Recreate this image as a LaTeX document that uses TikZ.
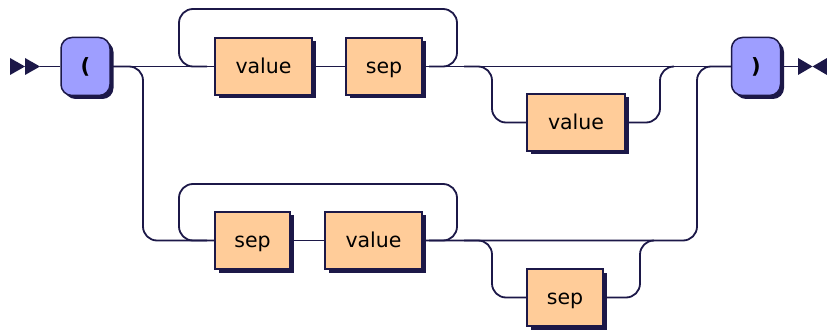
\documentclass[tikz,border=0pt]{standalone}
\usepackage{fontspec}
\setmainfont{DejaVu Sans}
\usetikzlibrary{shadows}
\definecolor{ink}{HTML}{1C1848}
\definecolor{peach}{HTML}{FFCC99}
\definecolor{lav}{HTML}{9E9EFF}
\begin{document}
\begin{tikzpicture}[x=1pt,y=-1pt,
  line/.style={draw=ink,line width=1.8pt,rounded corners=14pt},
  nt/.style={draw=ink,line width=1.5pt,fill=peach,minimum height=57pt,inner sep=0pt,
    font=\fontsize{20.5}{24}\selectfont,text=black,text height=16.5pt,text depth=3pt,
    drop shadow={shadow xshift=3.5pt,shadow yshift=-3.5pt,fill=ink,opacity=1}},
  term/.style={draw=ink,line width=1.5pt,fill=lav,rounded corners=11pt,minimum height=58pt,minimum width=49pt,inner sep=0pt,
    font=\fontsize{21}{24}\selectfont\bfseries,text=black,
    drop shadow={shadow xshift=3.5pt,shadow yshift=-3.5pt,fill=ink,opacity=1}},
  tip/.style={fill=ink,draw=none}]
\useasboundingbox (0,0) rectangle (827,331);
% start / end
\coordinate (start) at (40,66.5);
\coordinate (finish) at (798,66.5);
\fill[tip] (10,58) -- (25,66.5) -- (10,75) -- cycle;
\fill[tip] (25,58) -- (40,66.5) -- (25,75) -- cycle;
\fill[tip] (798,58) -- (812.5,66.5) -- (798,75) -- cycle;
\fill[tip] (827,58) -- (812.5,66.5) -- (827,75) -- cycle;
% nodes
\node[term] (lp) at (85.5,66.5) {(};
\node[term] (rp) at (756,66.5) {)};
\node[nt,minimum width=97pt] (v1) at (263.5,66.5) {value};
\node[nt,minimum width=76pt] (s1) at (384,66.5) {sep};
\node[nt,minimum width=98pt] (v2) at (576,122.5) {value};
\node[nt,minimum width=75pt] (s2) at (252.5,240.5) {sep};
\node[nt,minimum width=97pt] (v3) at (373.5,240.5) {value};
\node[nt,minimum width=76pt] (s3) at (565,297.5) {sep};
% coordinates for connector bends
\coordinate (a1) at (143,66.5);
\coordinate (a2) at (143,240.5);
\coordinate (j1) at (697,240.5);
\coordinate (j2) at (697,66.5);
% main line
\draw[line] (start) -- (lp.west);
\draw[line] (lp.east) -- (v1.west);
\draw[line] (v1.east) -- (s1.west);
\draw[line] (s1.east) -- (rp.west);
\draw[line] (rp.east) -- (finish);
% top loop
\draw[line] (429,66.5) -- (457,66.5) -- (457,9) -- (179,9) -- (179,66.5) -- (207,66.5);
% optional value
\draw[line] (464,66.5) -- (492,66.5) -- (492,122.5) -- (v2.west);
\draw[line] (v2.east) -- (660,122.5) -- (660,66.5) -- (674,66.5);
% lower branch
\draw[line] (lp.east) -- (a1) -- (a2) -- (s2.west);
\draw[line] (s2.east) -- (v3.west);
\draw[line] (v3.east) -- (j1) -- (j2) -- (rp.west);
% lower loop
\draw[line] (429,240.5) -- (457,240.5) -- (457,184) -- (179,184) -- (179,240.5) -- (207,240.5);
% optional sep
\draw[line] (464,240.5) -- (492,240.5) -- (492,297.5) -- (s3.west);
\draw[line] (s3.east) -- (640,297.5) -- (640,240.5) -- (654,240.5);
\end{tikzpicture}
\end{document}
